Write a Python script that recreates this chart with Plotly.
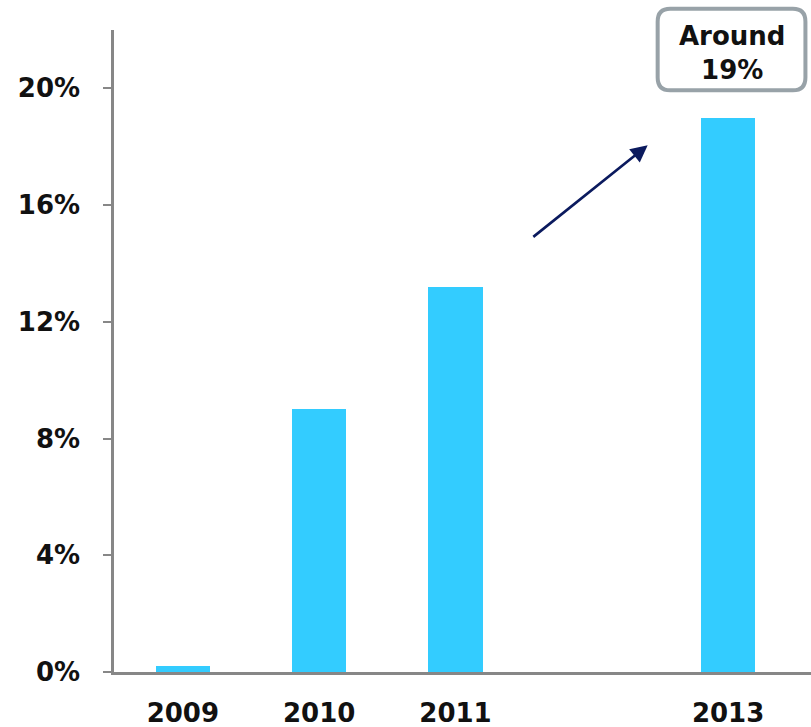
import plotly.graph_objects as go

# Share of total, by year (2012 has no bar)
years = [2009, 2010, 2011, 2013]
shares = [0.2, 9.0, 13.2, 19.0]
tick_vals = [0, 4, 8, 12, 16, 20]
tick_text = ["0%", "4%", "8%", "12%", "16%", "20%"]
callout_text = "Around<br>19%"

BAR_COLOR = "#33CCFF"
AXIS_COLOR = "#878787"
FONT = "DejaVu Sans"

fig = go.Figure()
fig.add_trace(go.Bar(
    x=years, y=shares, width=0.4,
    marker=dict(color=BAR_COLOR, line=dict(width=0)),
    hoverinfo="skip",
))

# Rounded callout box in paper coordinates
x0, x1, y0, y1 = 0.780, 0.992, 0.906, 1.033
rx, ry = 0.018, 0.020
path = (
    f"M {x0+rx},{y1} L {x1-rx},{y1} Q {x1},{y1} {x1},{y1-ry} "
    f"L {x1},{y0+ry} Q {x1},{y0} {x1-rx},{y0} "
    f"L {x0+rx},{y0} Q {x0},{y0} {x0},{y0+ry} "
    f"L {x0},{y1-ry} Q {x0},{y1} {x0+rx},{y1} Z"
)
fig.add_shape(type="path", path=path, xref="paper", yref="paper",
              line=dict(color="#98A2A8", width=4), fillcolor="white", layer="above")

fig.add_annotation(
    x=(x0 + x1) / 2, y=(y0 + y1) / 2 - 0.005, xref="paper", yref="paper",
    text=f"<b>{callout_text}</b>", showarrow=False,
    font=dict(family=FONT, size=26, color="#111111"),
    xanchor="center", yanchor="middle",
)

# Trend arrow pointing toward the 2013 bar
fig.add_annotation(
    x=2012.41, y=18.05, ax=2011.56, ay=14.87,
    xref="x", yref="y", axref="x", ayref="y",
    text="", showarrow=True, arrowhead=2, arrowsize=1.3,
    arrowwidth=2.6, arrowcolor="#0B1A5E",
)

fig.update_layout(
    width=811, height=727,
    margin=dict(l=114, r=0, t=30, b=55),
    plot_bgcolor="white", paper_bgcolor="white",
    showlegend=False,
    bargap=0,
    font=dict(family=FONT, size=26, color="#111111"),
)
fig.update_xaxes(
    range=[2008.495, 2013.608],
    tickvals=years, ticktext=[f"<b>{y}</b>" for y in years],
    showgrid=False, zeroline=False, automargin=False,
    showline=True, linecolor=AXIS_COLOR, linewidth=2.5,
    ticks="", ticklabelstandoff=16,
    tickfont=dict(family=FONT, size=26, color="#111111"),
)
fig.update_yaxes(
    range=[0, 22],
    tickvals=tick_vals, ticktext=[f"<b>{t}</b>" for t in tick_text],
    showgrid=False, zeroline=False, automargin=False,
    showline=True, linecolor=AXIS_COLOR, linewidth=2.5,
    ticks="outside", ticklen=8, tickwidth=2, tickcolor=AXIS_COLOR,
    ticklabelstandoff=18,
    tickfont=dict(family=FONT, size=26, color="#111111"),
)

fig.write_html("out.html")
